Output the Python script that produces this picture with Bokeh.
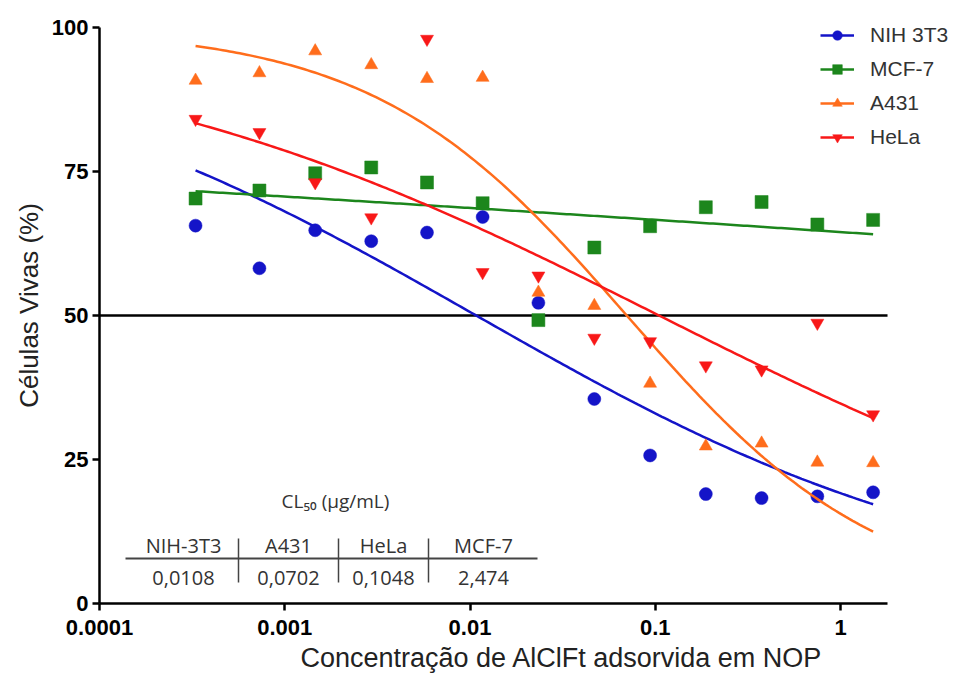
import numpy as np
from bokeh.plotting import figure
from bokeh.models import Range1d, FixedTicker, Legend, LegendItem, Label
from bokeh.embed import file_html
from bokeh.resources import INLINE

# ---- data -------------------------------------------------------------
concentration = [0.00033, 0.00073, 0.00146, 0.00293, 0.00586, 0.0117, 0.0234,
                 0.0469, 0.0938, 0.1875, 0.375, 0.75, 1.5]

nih3t3 = [65.6, 58.2, 64.8, 62.9, 64.4, 67.1, 52.2, 35.5, 25.7, 19.0, 18.3, 18.6, 19.3]
mcf7 = [70.3, 71.7, 74.7, 75.7, 73.1, 69.5, 49.2, 61.8, 65.5, 68.8, 69.7, 65.8, 66.6]
a431 = [90.8, 92.1, 95.9, 93.5, 91.1, 91.3, 54.0, 51.7, 38.2, 27.3, 27.8, 24.5, 24.4]
hela = [84.1, 81.8, 73.1, 67.0, 98.0, 57.5, 56.9, 46.1, 45.5, 41.3, 40.6, 48.7, 32.8]

series_names = ["NIH 3T3", "MCF-7", "A431", "HeLa"]

# dose-response fits: (top, bottom, hill slope, log10 midpoint)
fit_nih3t3 = (100.0, 0.0, 0.318, np.log10(0.0108))
fit_mcf7 = (100.0, 0.0, 0.0408, 6.35)
fit_a431 = (100.0, 0.0, 0.636, np.log10(0.0702))
fit_hela = (100.0, 0.0, 0.280, np.log10(0.1048))

# CL50 table
table_title = "CL\u2085\u2080 (\u00b5g/mL)"
table_cells = ["NIH-3T3", "A431", "HeLa", "MCF-7"]
table_values = ["0,0108", "0,0702", "0,1048", "2,474"]

x_ticks = [0.0001, 0.001, 0.01, 0.1, 1]
x_tick_labels = ["0.0001", "0.001", "0.01", "0.1", "1"]
y_ticks = [0, 25, 50, 75, 100]
x_axis_start, x_axis_end = 1e-4, 1.794   # drawn extent of the x axis
y_axis_start, y_axis_end = 0, 100        # drawn extent of the y axis

x_title = "Concentra\u00e7\u00e3o de AlClFt adsorvida em NOP"
y_title = "C\u00e9lulas Vivas (%)"

# ---- geometry & styling -----------------------------------------------
colors = ["#1414c8", "#1c861c", "#ff6d1c", "#f81818"]
markers = ["circle", "square", "triangle", "inverted_triangle"]
W, H = 965, 673
AXIS_X0_PX = 99          # page x of the axes origin
AXIS_Y0_PX = 603         # page y of the axes origin
PX_PER_DECADE = 185.25
PX_PER_UNIT = 5.76

LOG_LO = np.log10(x_axis_start) - AXIS_X0_PX / PX_PER_DECADE
LOG_HI = np.log10(x_axis_start) + (W - AXIS_X0_PX) / PX_PER_DECADE
Y_LO = y_axis_start - (H - AXIS_Y0_PX) / PX_PER_UNIT
Y_HI = y_axis_start + AXIS_Y0_PX / PX_PER_UNIT

p = figure(width=W, height=H, x_axis_type="log",
           x_range=Range1d(10 ** LOG_LO, 10 ** LOG_HI),
           y_range=Range1d(Y_LO, Y_HI),
           output_backend="svg", toolbar_location=None,
           min_border_left=0, min_border_right=0,
           min_border_top=0, min_border_bottom=0)
p.outline_line_color = None
p.grid.visible = False
p.background_fill_color = "white"
p.border_fill_color = "white"


def data_x(px):
    """Page x pixel -> data x (log axis)."""
    return 10 ** (np.log10(x_axis_start) + (px - AXIS_X0_PX) / PX_PER_DECADE)


def data_y(py):
    """Page y pixel -> data y."""
    return y_axis_start + (AXIS_Y0_PX - py) / PX_PER_UNIT


for ax in (p.xaxis[0], p.yaxis[0]):
    ax.axis_line_width = 2.5
    ax.axis_line_color = "black"
    ax.major_tick_line_width = 2.5
    ax.major_tick_line_color = "black"
    ax.major_tick_out = 7
    ax.major_tick_in = 0
    ax.minor_tick_line_color = None
    ax.major_label_text_font = "Liberation Sans"
    ax.major_label_text_font_style = "bold"
    ax.major_label_text_font_size = "22px"
    ax.major_label_text_color = "black"

# both axes are pinned at the origin and drawn only over their extent
p.xaxis.fixed_location = y_axis_start
p.xaxis.ticker = FixedTicker(ticks=x_ticks)
p.xaxis.major_label_overrides = {t: s for t, s in zip(x_ticks, x_tick_labels)}
p.xaxis.major_label_standoff = 9
p.xaxis.bounds = (x_axis_start, x_axis_end)

p.yaxis.fixed_location = x_axis_start
p.yaxis.ticker = FixedTicker(ticks=y_ticks)
p.yaxis.major_label_standoff = 4
p.yaxis.bounds = (y_axis_start, y_axis_end)

title_style = dict(text_font="Liberation Sans", text_font_size="26px",
                   text_color="#222222", text_baseline="middle")
p.add_layout(Label(x=data_x(300), y=data_y(657), text=x_title,
                   text_align="left", **{**title_style, "text_font_size": "27px"}))
p.add_layout(Label(x=data_x(28), y=data_y(305), text=y_title, angle=np.pi / 2,
                   text_align="center", **title_style))

# 50 % reference line across the drawn axis length
p.line([x_axis_start, x_axis_end], [50, 50], line_color="black", line_width=2.5,
       level="underlay")


def four_pl(logx, top, bottom, hill, logmid):
    return bottom + (top - bottom) / (1 + 10 ** (hill * (logx - logmid)))


values = [nih3t3, mcf7, a431, hela]
fits = [fit_nih3t3, fit_mcf7, fit_a431, fit_hela]
logc = np.log10(concentration)
grid = np.linspace(logc.min(), logc.max(), 200)

items = []
for name, vals, fit, col, mk in zip(series_names, values, fits, colors, markers):
    ln = p.line(10 ** grid, four_pl(grid, *fit), line_color=col, line_width=2.5)
    sc = p.scatter(concentration, vals, marker=mk, size=13,
                   fill_color=col, line_color=col, line_width=0.5)
    items.append(LegendItem(label=name, renderers=[ln, sc]))

legend = Legend(items=items, location=(820, H - 149),
                orientation="vertical", glyph_width=34, glyph_height=24,
                label_height=24, spacing=10, label_standoff=16,
                padding=0, margin=0, border_line_color=None,
                background_fill_alpha=0,
                label_text_font="Liberation Sans", label_text_font_size="21px",
                label_text_color="#333333")
p.add_layout(legend)

# CL50 table drawn inside the plot area
tbl_font = "Open Sans"
p.add_layout(Label(x=data_x(335), y=data_y(500), text=table_title,
                   text_align="center", text_baseline="middle",
                   text_font=tbl_font, text_font_size="19px", text_color="#333333"))
col_px = [183, 288, 383, 483]
for cx, head, val in zip(col_px, table_cells, table_values):
    p.add_layout(Label(x=data_x(cx), y=data_y(545), text=head,
                       text_align="center", text_baseline="middle",
                       text_font=tbl_font, text_font_size="20px", text_color="#333333"))
    p.add_layout(Label(x=data_x(cx), y=data_y(577), text=val,
                       text_align="center", text_baseline="middle",
                       text_font=tbl_font, text_font_size="20px", text_color="#333333"))

p.line([data_x(125), data_x(537)], [data_y(558), data_y(558)],
       line_color="#444444", line_width=1.8)
sep_px = [238, 338, 428]
p.segment(x0=[data_x(s) for s in sep_px], y0=[data_y(538)] * 3,
          x1=[data_x(s) for s in sep_px], y1=[data_y(582)] * 3,
          line_color="#444444", line_width=1.5)

open("out.html", "w").write(file_html(p, INLINE))
